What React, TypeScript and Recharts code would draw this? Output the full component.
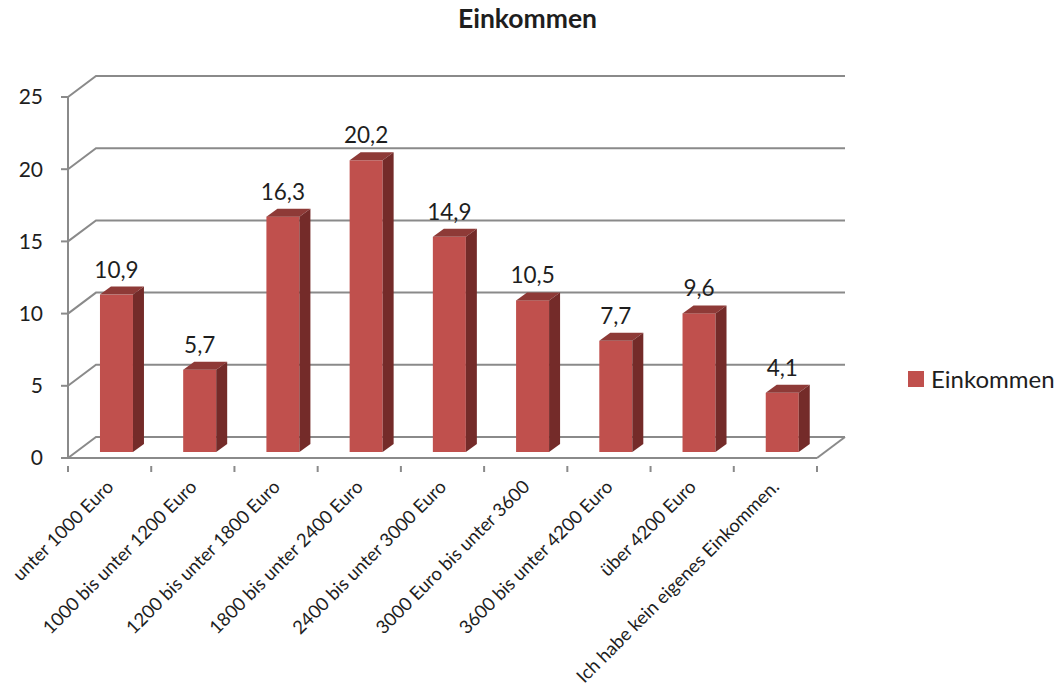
import React from "react";
import { BarChart, Bar, XAxis, YAxis, CartesianGrid, Legend } from "recharts";

const categories = [
  "unter 1000 Euro",
  "1000 bis unter 1200 Euro",
  "1200 bis unter 1800 Euro",
  "1800 bis unter 2400 Euro",
  "2400 bis unter 3000 Euro",
  "3000 Euro bis unter 3600",
  "3600 bis unter 4200 Euro",
  "über 4200 Euro",
  "Ich habe kein eigenes Einkommen.",
];
const values = [10.9, 5.7, 16.3, 20.2, 14.9, 10.5, 7.7, 9.6, 4.1];
const yTicks = [0, 5, 10, 15, 20, 25];
const seriesName = "Einkommen";

const data = categories.map((name, i) => ({ name, value: values[i] }));

const FONT = "Lato, 'Liberation Sans', sans-serif";
const GRID = "#8a8a8a";
const FRONT = "#C0504D";
const TOP = "#8E3A37";
const SIDE = "#742B29";

// 3d look: back wall offset and bar depth
const WALL_DX = 28;
const WALL_DY = -21;
const BAR_DX = 7;
const BAR_DY = -6;
const DEPTH_X = 11;
const DEPTH_Y = -8;

const PLOT_LEFT = 68;
const PLOT_RIGHT = 817;
const PLOT_TOP = 97;
const PLOT_BOTTOM = 458;
const BAND = (PLOT_RIGHT - PLOT_LEFT) / categories.length;

const fmt = (v: number) => v.toFixed(1).replace(".", ",");

const GridLine = (props: any) => {
  const { x1, y1, x2 } = props;
  const isFloor = y1 > PLOT_BOTTOM - 2;
  return (
    <g>
      <path
        d={`M${x1},${y1} L${x1 + WALL_DX},${y1 + WALL_DY} L${x2 + WALL_DX},${y1 + WALL_DY}`}
        stroke={GRID}
        strokeWidth={2}
        fill="none"
      />
      {isFloor && (
        <line x1={x2} y1={y1} x2={x2 + WALL_DX} y2={y1 + WALL_DY} stroke={GRID} strokeWidth={2} />
      )}
    </g>
  );
};

const Bar3D = (props: any) => {
  const { x, y, width, height, payload } = props;
  const fx = x + BAR_DX;
  const top = y + BAR_DY;
  const bottom = y + height + BAR_DY;
  const r = fx + width;
  return (
    <g>
      <rect x={fx} y={top} width={width} height={bottom - top} fill={FRONT} />
      <polygon
        points={`${fx},${top} ${r},${top} ${r + DEPTH_X},${top + DEPTH_Y} ${fx + DEPTH_X},${top + DEPTH_Y}`}
        fill={TOP}
      />
      <polygon
        points={`${r},${top} ${r + DEPTH_X},${top + DEPTH_Y} ${r + DEPTH_X},${bottom + DEPTH_Y} ${r},${bottom}`}
        fill={SIDE}
      />
      <text
        x={fx + width / 2}
        y={top - 17}
        textAnchor="middle"
        fontSize={22.5}
        fontFamily={FONT}
        fill="#1e1e1e"
      >
        {fmt(payload.value)}
      </text>
    </g>
  );
};

const CategoryTick = (props: any) => {
  const { x, y, payload, index } = props;
  const last = index === categories.length - 1;
  return (
    <g>
      <line x1={x - BAND / 2} y1={y} x2={x - BAND / 2} y2={y + 6} stroke={GRID} strokeWidth={2} />
      {last && <line x1={x + BAND / 2} y1={y} x2={x + BAND / 2} y2={y + 6} stroke={GRID} strokeWidth={2} />}
      <g transform={`translate(${x + 5},${y + 22})`}>
        <text transform="rotate(-45)" textAnchor="end" fontSize={18.5} fontFamily={FONT} fill="#1e1e1e">
          {payload.value}
        </text>
      </g>
    </g>
  );
};

const LegendBox = () => (
  <div style={{ display: "flex", alignItems: "center", fontFamily: FONT, fontSize: 24, color: "#1e1e1e" }}>
    <span style={{ display: "inline-block", width: 16, height: 16, background: FRONT, marginRight: 7 }} />
    {seriesName}
  </div>
);

export default function App() {
  const yAxisWidth = 60;
  const xAxisHeight = 200;
  return (
    <div style={{ position: "absolute", left: 0, top: 0, width: 1063, height: 693, background: "#fff" }}>
      <div
        style={{
          position: "absolute",
          left: 0,
          width: 1063,
          top: 2,
          textAlign: "center",
          fontFamily: FONT,
          fontWeight: 700,
          fontSize: 26.5,
          color: "#1e1e1e",
        }}
      >
        <span style={{ position: "relative", left: -4 }}>{seriesName}</span>
      </div>
      <BarChart
        width={1063}
        height={693}
        data={data}
        barCategoryGap="30%"
        margin={{
          top: PLOT_TOP,
          right: 1063 - PLOT_RIGHT,
          bottom: 693 - PLOT_BOTTOM - xAxisHeight,
          left: PLOT_LEFT - yAxisWidth,
        }}
      >
        <CartesianGrid vertical={false} horizontal={GridLine} />
        <XAxis
          dataKey="name"
          interval={0}
          height={xAxisHeight}
          tickLine={false}
          axisLine={{ stroke: GRID, strokeWidth: 2 }}
          tick={CategoryTick}
        />
        <YAxis
          domain={[0, 25]}
          ticks={yTicks}
          width={yAxisWidth}
          tickSize={7}
          tickMargin={18}
          axisLine={{ stroke: GRID, strokeWidth: 2 }}
          tickLine={{ stroke: GRID, strokeWidth: 2 }}
          tick={{ fontSize: 21, fontFamily: FONT, fill: "#1e1e1e" }}
        />
        <Legend
          layout="vertical"
          align="center"
          verticalAlign="middle"
          content={LegendBox}
          wrapperStyle={{ left: 908, top: 364, width: 160 }}
        />
        <Bar dataKey="value" name={seriesName} shape={Bar3D} isAnimationActive={false} />
      </BarChart>
    </div>
  );
}
